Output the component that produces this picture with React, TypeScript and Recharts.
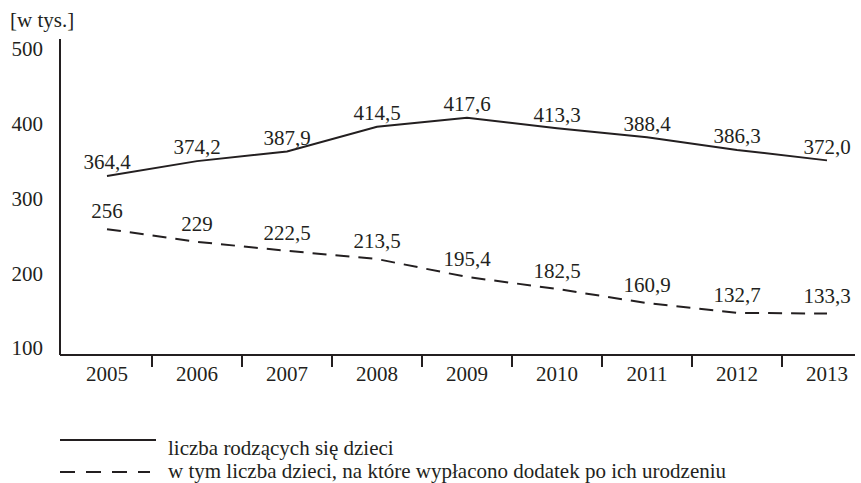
import { LineChart, Line, XAxis, YAxis, LabelList } from "recharts";

// lata na osi X
const lata = ["2005", "2006", "2007", "2008", "2009", "2010", "2011", "2012", "2013"];
// przebieg linii (w tys.)
const urodzenia = [330, 350, 363, 396, 408, 394, 382, 365, 351];
const dodatek = [259, 242, 230, 219, 195, 179, 160, 147, 146];
// wartości wypisane przy punktach
const urodzeniaEtykiety = ["364,4", "374,2", "387,9", "414,5", "417,6", "413,3", "388,4", "386,3", "372,0"];
const dodatekEtykiety = ["256", "229", "222,5", "213,5", "195,4", "182,5", "160,9", "132,7", "133,3"];
const osY = [100, 200, 300, 400, 500];

const data = lata.map((rok, i) => ({
  rok,
  urodzenia: urodzenia[i],
  dodatek: dodatek[i],
  urodzeniaEtykieta: urodzeniaEtykiety[i],
  dodatekEtykieta: dodatekEtykiety[i],
}));

const FONT = "'Liberation Serif', 'Times New Roman', serif";
const FS = 21;
const INK = "#231f20";
const W = 861;
const H = 483;
const M = { top: 39, right: 6, bottom: 98, left: 10 };
const Y_W = 50;
const PAD_L = 47;
const PAD_R = 28;
const step = (W - M.left - M.right - Y_W - PAD_L - PAD_R) / (lata.length - 1);

const RokTick = (props: any) => {
  const { x, y, payload, index } = props;
  return (
    <g>
      <text x={x} y={y} dy="0.71em" textAnchor="middle" fontSize={FS} fontFamily={FONT} fill={INK}>
        {payload.value}
      </text>
      {index < lata.length - 1 && (
        <line x1={x + step / 2} x2={x + step / 2} y1={y - 11} y2={y + 1} stroke={INK} strokeWidth={2} />
      )}
    </g>
  );
};

const etykieta = (dy: number) => (props: any) => {
  const { x, y, value } = props;
  return (
    <text x={x} y={y + dy} dy="0.35em" textAnchor="middle" fontSize={FS} fontFamily={FONT} fill={INK}>
      {value}
    </text>
  );
};

const legenda = [
  { dash: undefined, y: 440, base: 455, txt: "liczba rodzących się dzieci" },
  { dash: "15 11", y: 472, base: 478, txt: "w tym liczba dzieci, na które wypłacono dodatek po ich urodzeniu" },
];

export default function App() {
  return (
    <div style={{ position: "absolute", left: 0, top: 0, width: W, height: H, background: "#fff", fontFamily: FONT }}>
      <div style={{ position: "absolute", left: 10, top: 8, fontSize: FS, color: INK, lineHeight: "24px" }}>
        [w tys.]
      </div>
      <LineChart width={W} height={H} data={data} margin={M}>
        <XAxis
          dataKey="rok"
          padding={{ left: PAD_L, right: PAD_R }}
          axisLine={{ stroke: INK, strokeWidth: 2 }}
          tickLine={false}
          tickSize={0}
          tickMargin={11}
          height={30}
          tick={RokTick}
          interval={0}
        />
        <YAxis
          type="number"
          domain={[90.6, 513.4]}
          ticks={osY}
          allowDataOverflow
          width={Y_W}
          axisLine={{ stroke: INK, strokeWidth: 2 }}
          tickLine={false}
          tickSize={15}
          tickMargin={2}
          tick={{ fontSize: FS, fontFamily: FONT, fill: INK }}
        />
        <Line dataKey="urodzenia" type="linear" stroke={INK} strokeWidth={2} dot={false} isAnimationActive={false}>
          <LabelList dataKey="urodzeniaEtykieta" content={etykieta(-14)} />
        </Line>
        <Line
          dataKey="dodatek"
          type="linear"
          stroke={INK}
          strokeWidth={2}
          strokeDasharray="14 9"
          dot={false}
          isAnimationActive={false}
        >
          <LabelList dataKey="dodatekEtykieta" content={etykieta(-18)} />
        </Line>
      </LineChart>
      <svg width={W} height={H} style={{ position: "absolute", left: 0, top: 0, pointerEvents: "none" }}>
        {legenda.map((r) => (
          <g key={r.txt}>
            <line x1={60} x2={r.dash ? 150 : 156} y1={r.y} y2={r.y} stroke={INK} strokeWidth={2} strokeDasharray={r.dash} />
            <text x={168} y={r.base} fontSize={FS} fontFamily={FONT} fill={INK}>
              {r.txt}
            </text>
          </g>
        ))}
      </svg>
    </div>
  );
}
